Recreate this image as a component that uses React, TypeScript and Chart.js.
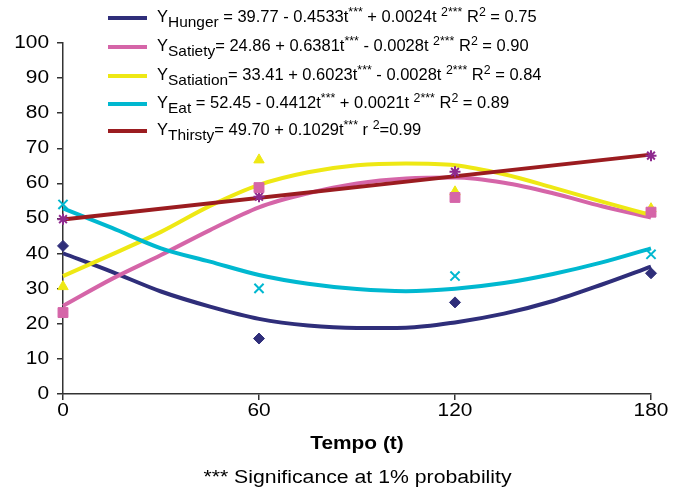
import React, { useEffect, useRef } from "react";
import { Chart, registerables } from "chart.js";

Chart.register(...registerables);

// ---- Data ----
const obsTimes = [0, 60, 120, 180];
const hungerObs = [42.2, 15.8, 26.1, 34.4];
const satietyObs = [23.2, 58.8, 56.0, 51.8];
const satiationObs = [30.6, 66.7, 57.6, 52.8];
const eatObs = [54.0, 30.1, 33.6, 39.8];
const thirstyObs = [49.8, 56.2, 63.3, 67.9];

const fitTimes = [0, 15, 30, 45, 60, 75, 90, 105, 120, 135, 150, 165, 180];
const hungerFit = [40.1, 34.8, 29.2, 24.9, 21.4, 19.5, 18.8, 18.9, 20.4, 22.9, 26.5, 31.2, 36.3];
const satietyFit = [25.1, 32.8, 39.6, 46.7, 53.2, 57.2, 60.0, 61.4, 61.7, 60.2, 57.2, 53.5, 50.3];
const satiationFit = [33.6, 39.8, 46.2, 53.6, 59.6, 63.2, 65.2, 65.7, 65.2, 62.6, 58.8, 54.8, 51.0];
const eatFit = [52.9, 47.3, 41.5, 37.7, 33.9, 31.4, 29.9, 29.3, 30.0, 31.6, 34.2, 37.5, 41.5];
const thirstyFitTimes = [0, 180];
const thirstyFit = [49.7, 68.2];

const xTicks = [0, 60, 120, 180];
const yMin = 0;
const yMax = 100;
const yStep = 10;

const xTitle = "Tempo (t)";
const footnote = "*** Significance at 1% probability";

const seriesNames = ["Hunger", "Satiety", "Satiation", "Eat", "Thirsty"];
const lineColors = ["#2F2E7A", "#D565A8", "#EEE814", "#00B8D0", "#9B1C20"];
const markerColors = ["#2F2E7A", "#D565A8", "#EEE814", "#00B8D0", "#8E2A8E"];
const legendTexts = [
  "Y_{Hunger} = 39.77 - 0.4533t^{***} + 0.0024t ^{2***} R^{2} = 0.75",
  "Y_{Satiety}= 24.86 + 0.6381t^{***} - 0.0028t ^{2***} R^{2} = 0.90",
  "Y_{Satiation}= 33.41 + 0.6023t^{***} - 0.0028t ^{2***} R^{2} = 0.84",
  "Y_{Eat} = 52.45 - 0.4412t^{***} + 0.0021t ^{2***} R^{2} = 0.89",
  "Y_{Thirsty}= 49.70 + 0.1029t^{***} r ^{2}=0.99",
];

const FONT = "'Liberation Sans', Arial, Helvetica, sans-serif";
const SX = 1.16;

function toPoints(xs: number[], ys: number[]) {
  return xs.map((x, i) => ({ x, y: ys[i] }));
}

function renderRich(text: string) {
  const out: React.ReactNode[] = [];
  const re = /([_^])\{([^}]*)\}/g;
  let last = 0;
  let m: RegExpExecArray | null;
  let k = 0;
  while ((m = re.exec(text))) {
    if (m.index > last) out.push(<span key={k++}>{text.slice(last, m.index)}</span>);
    if (m[1] === "_") {
      out.push(
        <span key={k++} style={{ fontSize: "15px", position: "relative", top: "5px" }}>
          {m[2]}
        </span>
      );
    } else {
      out.push(
        <span key={k++} style={{ fontSize: "12px", position: "relative", top: "-6px" }}>
          {m[2]}
        </span>
      );
    }
    last = re.lastIndex;
  }
  if (last < text.length) out.push(<span key={k++}>{text.slice(last)}</span>);
  return out;
}

const stretchedText = {
  id: "stretchedText",
  afterDraw(chart: any) {
    const ctx = chart.ctx as CanvasRenderingContext2D;
    const xs = chart.scales.x;
    const ys = chart.scales.y;
    const draw = (text: string, x: number, y: number, align: CanvasTextAlign, font: string, sx: number) => {
      ctx.save();
      ctx.translate(x, y);
      ctx.scale(sx, 1);
      ctx.font = font;
      ctx.fillStyle = "#000";
      ctx.textAlign = align;
      ctx.textBaseline = "middle";
      ctx.fillText(text, 0, 0);
      ctx.restore();
    };
    const normal = `18px ${FONT}`;
    ys.ticks.forEach((t: any) => {
      draw(String(t.label ?? t.value), ys.right - 14, ys.getPixelForValue(t.value), "right", normal, SX);
    });
    xs.ticks.forEach((t: any) => {
      draw(String(t.label ?? t.value), xs.getPixelForValue(t.value), xs.top + 17, "center", normal, SX);
    });
    const cx = (chart.chartArea.left + chart.chartArea.right) / 2;
    draw(xTitle, cx, xs.top + 50, "center", `bold 18px ${FONT}`, SX);
    draw(footnote, cx + 0.5, xs.top + 84, "center", normal, 1.18);
  },
};

export default function App() {
  const canvasRef = useRef<HTMLCanvasElement | null>(null);

  useEffect(() => {
    const canvas = canvasRef.current;
    if (!canvas) return;
    Chart.defaults.font.family = FONT;
    const styles = ["rectRot", "rect", "triangle", "crossRot", "star"];
    const radii = [5.5, 7, 6, 6.5, 5.5];
    const obs = [hungerObs, satietyObs, satiationObs, eatObs, thirstyObs];
    const fits = [hungerFit, satietyFit, satiationFit, eatFit, thirstyFit];

    const scatterSets = obs.map((ys, i) => ({
      label: seriesNames[i] + " obs",
      type: "scatter" as const,
      data: toPoints(obsTimes, ys),
      pointStyle: styles[i],
      pointRadius: radii[i],
      pointBackgroundColor: markerColors[i],
      pointBorderColor: markerColors[i],
      pointBorderWidth: i >= 3 ? 2 : 1,
      showLine: false,
      clip: false,
    }));
    const lineSets = fits
      .map((ys, i) => ({
        label: seriesNames[i],
        type: "line" as const,
        data: toPoints(i === 4 ? thirstyFitTimes : fitTimes, ys),
        borderColor: lineColors[i],
        borderWidth: 4,
        pointRadius: 0,
        tension: 0.4,
        cubicInterpolationMode: "monotone" as const,
        fill: false,
        clip: false,
      }))
      .reverse();

    const chart = new Chart(canvas, {
      type: "scatter",
      data: { datasets: [...scatterSets, ...lineSets] as any },
      options: {
        animation: false,
        responsive: false,
        devicePixelRatio: 1,
        layout: { padding: { left: 0, right: 30, top: 43, bottom: 0 } },
        plugins: {
          legend: { display: false },
          tooltip: { enabled: false },
          title: { display: false },
        },
        scales: {
          x: {
            type: "linear",
            min: 0,
            max: 180,
            afterBuildTicks: (s: any) => {
              s.ticks = xTicks.map((v) => ({ value: v }));
            },
            afterFit: (s: any) => {
              s.height = 96;
            },
            ticks: { display: false },
            grid: { drawOnChartArea: false, drawTicks: true, tickLength: 6, color: "#333", lineWidth: 1.5 },
            border: { color: "#333", width: 1.5 },
          },
          y: {
            type: "linear",
            min: yMin,
            max: yMax,
            afterFit: (s: any) => {
              s.width = 63;
            },
            ticks: { stepSize: yStep, display: false },
            grid: { drawOnChartArea: false, drawTicks: true, tickLength: 6, color: "#333", lineWidth: 1.5 },
            border: { color: "#333", width: 1.5 },
          },
        },
      } as any,
      plugins: [stretchedText],
    });
    return () => chart.destroy();
  }, []);

  const rowCenters = [18, 47, 76, 104, 131];

  return (
    <div
      style={{
        position: "fixed",
        left: 0,
        top: 0,
        width: 681,
        height: 490,
        background: "#fff",
        fontFamily: FONT,
      }}
    >
      <canvas ref={canvasRef} width={681} height={490} style={{ position: "absolute", left: 0, top: 0, width: 681, height: 490 }} />
      {legendTexts.map((t, i) => (
        <div key={i}>
          <div
            style={{
              position: "absolute",
              left: 108,
              top: rowCenters[i] - 2,
              width: 39,
              height: 4,
              background: lineColors[i],
            }}
          />
          <div
            style={{
              position: "absolute",
              left: 157,
              top: rowCenters[i] - 11,
              fontSize: "16px",
              lineHeight: "20px",
              whiteSpace: "nowrap",
              color: "#000",
              transform: "scaleX(1.03)",
              transformOrigin: "left center",
            }}
          >
            {renderRich(t)}
          </div>
        </div>
      ))}
    </div>
  );
}
